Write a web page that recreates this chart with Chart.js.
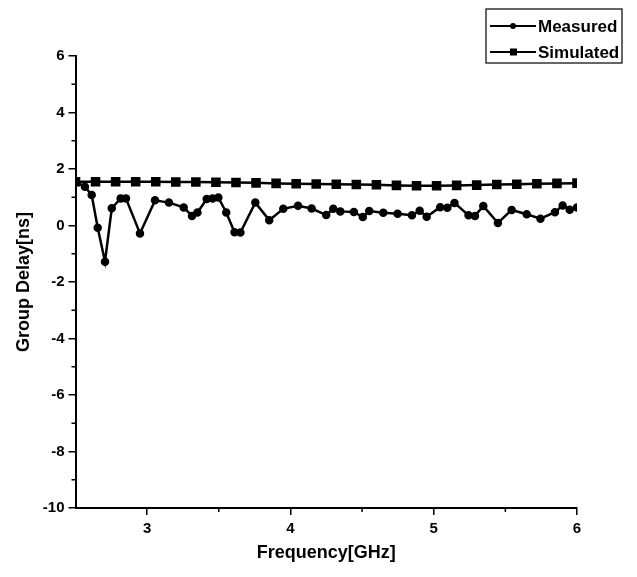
<!DOCTYPE html>
<html>
<head>
<meta charset="utf-8">
<script src="https://cdn.jsdelivr.net/npm/chart.js@4.4.1/dist/chart.umd.min.js"></script>
<style>
  body { margin: 0; background: #fff; }
</style>
</head>
<body>
<canvas id="delayChart" width="637" height="577"></canvas>
<script>
// dữ liệu
const measuredFreq = [2.5, 2.566, 2.613, 2.655, 2.706, 2.753, 2.815, 2.852, 2.95, 3.055,
  3.152, 3.255, 3.313, 3.351, 3.416, 3.457, 3.497, 3.552, 3.61, 3.651,
  3.755, 3.852, 3.95, 4.053, 4.148, 4.25, 4.299, 4.348, 4.443, 4.505,
  4.55, 4.648, 4.748, 4.848, 4.902, 4.951, 5.045, 5.095, 5.145, 5.243,
  5.288, 5.346, 5.448, 5.544, 5.649, 5.745, 5.846, 5.9, 5.949, 6.0];
const measuredDelay = [1.55, 1.37, 1.08, -0.08, -1.28, 0.61, 0.96, 0.96, -0.28, 0.89,
  0.81, 0.64, 0.34, 0.46, 0.94, 0.96, 0.99, 0.46, -0.24, -0.25,
  0.81, 0.19, 0.59, 0.70, 0.60, 0.37, 0.59, 0.50, 0.48, 0.30,
  0.51, 0.45, 0.42, 0.36, 0.52, 0.31, 0.65, 0.63, 0.80, 0.36,
  0.34, 0.69, 0.09, 0.55, 0.40, 0.24, 0.47, 0.71, 0.56, 0.64];

const simulatedFreq = [2.5, 2.64, 2.78, 2.92, 3.06, 3.2, 3.34, 3.48, 3.62, 3.76,
  3.9, 4.04, 4.18, 4.32, 4.46, 4.6, 4.74, 4.88, 5.02, 5.16,
  5.3, 5.44, 5.58, 5.72, 5.86, 6.0];
const simulatedDelay = [1.55, 1.55, 1.55, 1.55, 1.55, 1.54, 1.54, 1.53, 1.52, 1.51,
  1.49, 1.48, 1.47, 1.46, 1.45, 1.44, 1.42, 1.41, 1.41, 1.42,
  1.43, 1.45, 1.46, 1.48, 1.49, 1.50];

const xMajorTicks = [3, 4, 5, 6];
const xMinorTicks = [3.5, 4.5, 5.5];
const yMajorTicks = [-10, -8, -6, -4, -2, 0, 2, 4, 6];
const yMinorTicks = [-9, -7, -5, -3, -1, 1, 3, 5];

const FONT = "'Liberation Sans', Arial, Helvetica, sans-serif";

function toPoints(xs, ys) {
  return xs.map((x, i) => ({ x: x, y: ys[i] }));
}

// vạch chia phụ
const minorTicks = {
  id: 'minorTicks',
  afterDraw(chart) {
    const ctx = chart.ctx;
    const xs = chart.scales.x, ys = chart.scales.y;
    ctx.save();
    ctx.strokeStyle = '#000';
    ctx.lineWidth = 1.5;
    ctx.beginPath();
    yMinorTicks.forEach(v => {
      const py = ys.getPixelForValue(v);
      ctx.moveTo(xs.left - 4, py);
      ctx.lineTo(xs.left, py);
    });
    xMinorTicks.forEach(v => {
      const px = xs.getPixelForValue(v);
      ctx.moveTo(px, ys.bottom);
      ctx.lineTo(px, ys.bottom + 4);
    });
    ctx.stroke();
    ctx.restore();
  }
};

// chú thích có khung
const boxLegend = {
  id: 'boxLegend',
  afterDraw(chart) {
    const ctx = chart.ctx;
    const left = 486, top = 9, w = 136, h = 54;
    ctx.save();
    ctx.strokeStyle = '#000';
    ctx.lineWidth = 1.2;
    ctx.strokeRect(left, top, w, h);
    chart.data.datasets.forEach((ds, i) => {
      const y = top + 17 + i * 26;
      ctx.strokeStyle = '#000';
      ctx.lineWidth = 2;
      ctx.beginPath();
      ctx.moveTo(left + 4, y);
      ctx.lineTo(left + 50, y);
      ctx.stroke();
      ctx.fillStyle = '#000';
      if (ds.pointStyle === 'rect') {
        ctx.fillRect(left + 24, y - 3.5, 7, 7);
      } else {
        ctx.beginPath();
        ctx.arc(left + 27, y, 3, 0, Math.PI * 2);
        ctx.fill();
      }
      ctx.font = 'bold 17px ' + FONT;
      ctx.textBaseline = 'middle';
      ctx.fillText(ds.label, left + 52, y + 1);
    });
    ctx.restore();
  }
};

const ctx = document.getElementById('delayChart').getContext('2d');
const chart = new Chart(ctx, {
  type: 'line',
  data: {
    datasets: [{
      label: 'Measured',
      data: toPoints(measuredFreq, measuredDelay),
      borderColor: '#000',
      backgroundColor: '#000',
      borderWidth: 2.5,
      pointStyle: 'circle',
      pointRadius: 3,
      tension: 0
    }, {
      label: 'Simulated',
      data: toPoints(simulatedFreq, simulatedDelay),
      borderColor: '#000',
      backgroundColor: '#000',
      borderWidth: 2.5,
      pointStyle: 'rect',
      pointRadius: 5,
      tension: 0
    }]
  },
  options: {
    responsive: false,
    animation: false,
    layout: { padding: { top: 56, right: 60, left: 0, bottom: 0 } },
    plugins: {
      legend: { display: false },
      tooltip: { enabled: false }
    },
    scales: {
      x: {
        type: 'linear',
        min: 2.5,
        max: 6,
        afterBuildTicks: s => { s.ticks = xMajorTicks.map(v => ({ value: v })); },
        afterFit: s => { s.height = 69; },
        border: { display: true, color: '#000', width: 2 },
        grid: { drawOnChartArea: false, drawTicks: true, tickLength: 7, color: '#000', lineWidth: 1.5 },
        ticks: { color: '#000', padding: 5, font: { family: FONT, size: 15, weight: 'bold' } },
        title: {
          display: true,
          text: 'Frequency[GHz]',
          color: '#000',
          padding: { top: 0, bottom: 13 },
          font: { family: FONT, size: 18, weight: 'bold' }
        }
      },
      y: {
        min: -10,
        max: 6,
        afterBuildTicks: s => { s.ticks = yMajorTicks.map(v => ({ value: v })); },
        afterFit: s => { s.width = 75.5; },
        border: { display: true, color: '#000', width: 2 },
        grid: { drawOnChartArea: false, drawTicks: true, tickLength: 7, color: '#000', lineWidth: 1.5 },
        ticks: { color: '#000', padding: 4, font: { family: FONT, size: 15, weight: 'bold' } },
        title: {
          display: true,
          text: 'Group Delay[ns]',
          color: '#000',
          padding: { top: 13, bottom: 0 },
          font: { family: FONT, size: 18, weight: 'bold' }
        }
      }
    }
  },
  plugins: [minorTicks, boxLegend]
});
</script>
</body>
</html>
